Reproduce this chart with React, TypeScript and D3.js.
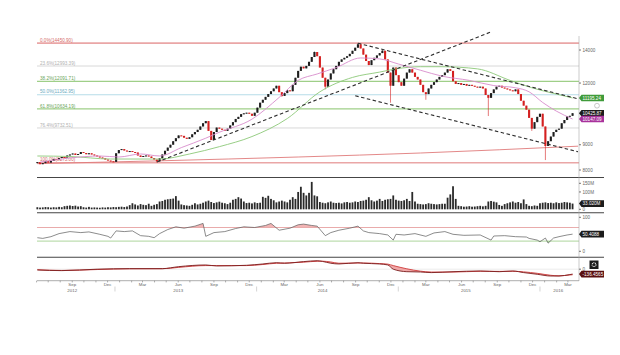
import React, { useEffect, useRef } from 'react';
import * as d3 from 'd3';

// weekly data, first week ending 2012-06-03
const firstWeek = new Date(2012, 5, 3);
const firstOpen = 8260;
const closes = [
  8300, 8220, 8260, 8340, 8280, 8350, 8420, 8400, 8460, 8500,
  8480, 8560, 8600, 8640, 8580, 8620, 8700, 8660, 8610, 8650,
  8600, 8560, 8520, 8480, 8450, 8400, 8360, 8330, 8310, 8650,
  8780, 8820, 8760, 8720, 8740, 8700, 8680, 8560, 8500, 8540,
  8560, 8520, 8460, 8400, 8330, 8450, 8600, 8750, 8880, 9000,
  9150, 9280, 9400, 9380, 9300, 9250, 9320, 9450, 9550, 9650,
  9800, 9950, 10050, 9600, 9200, 9550, 9750, 9700, 9650, 9600,
  9700, 9850, 10000, 10150, 10250, 10380, 10420, 10450, 10400, 10300,
  10450, 10700, 10950, 11100, 11250, 11400, 11550, 11700, 11850, 11500,
  11300, 11450, 11600, 11550, 11900, 12300, 12700, 12950, 12850, 13000,
  13250, 13550, 13870, 13600, 12900, 12300, 11800, 12200, 12550, 12800,
  13000, 13250, 13400, 13500, 13600, 13750, 13950, 14150, 14380, 14100,
  13700, 13300, 13050, 13350, 13500, 13650, 13800, 13950, 13400, 12600,
  11850, 12900, 12450, 12050, 11850, 12250, 12600, 12800, 12600, 12350,
  12200, 11900, 11500, 11400, 11700, 11900, 12050, 12200, 12350, 12450,
  12600, 12800, 12700, 12100, 11950, 12000, 11900, 11950, 11850, 11900,
  11850, 11800, 11750, 11800, 11700, 11350, 11200, 11450, 11650, 11800,
  11850, 11750, 11700, 11650, 11600, 11550, 11650, 11400, 11050, 10800,
  10600, 10200, 9700, 10000, 10250, 10400, 9800, 8950, 9150, 9350,
  9550, 9650, 9700, 9950, 10100, 10280, 10300, 10425.87,
];
const wickLows = [[44, 8280], [90, 11250], [106, 11650], [130, 10950], [143, 11100], [166, 10290], [182, 9600], [187, 8380]];
const wickHighs = [[102, 13900], [118, 14450.9], [127, 14000]];

const volumes = [
  12, 10, 11, 13, 12, 10, 12, 11, 14, 12,
  18, 20, 22, 19, 21, 16, 18, 12, 10, 14,
  10, 11, 10, 9, 11, 10, 12, 11, 13, 12,
  14, 15, 13, 16, 24, 35, 28, 22, 30, 26,
  24, 32, 20, 26, 30, 45, 48, 55, 58, 60,
  62, 76, 50, 28, 24, 22, 20, 26, 35, 28,
  32, 38, 45, 50, 42, 36, 40, 44, 38, 35,
  30, 38, 55, 60, 70, 62, 45, 36, 38, 34,
  40, 36, 38, 72, 66, 78, 60, 52, 40, 45,
  50, 45, 40, 55, 70, 60, 100, 130, 95, 80,
  95, 158, 80, 75, 42, 38, 35, 40, 45, 38,
  36, 38, 34, 40, 42, 38, 40, 45, 42, 48,
  50, 55, 70, 52, 45, 50, 60, 48, 55, 58,
  60, 80, 55, 50, 48, 52, 60, 48, 100, 45,
  32, 30, 28, 30, 35, 32, 30, 28, 30, 32,
  32, 67, 86, 133, 60, 20, 18, 15, 16, 18,
  15, 16, 18, 20, 17, 20, 45, 48, 44, 40,
  25, 20, 30, 35, 40, 45, 38, 42, 35, 57,
  30, 20, 18, 22, 20, 35, 38, 40, 36, 38,
  35, 40, 36, 38, 42, 40, 38, 33.02,
];

// moving averages read at sample weeks
const pinkWeeks = [1, 12, 23, 30, 38, 45, 53, 62, 67, 79, 89, 96, 103, 110, 119, 126, 133, 141, 149, 159, 168, 176, 181, 186, 191, 197];
const pinkValues = [8300, 8460, 8540, 8500, 8620, 8540, 8880, 9280, 9540, 10140, 11220, 12150, 12520, 12900, 13490, 13430, 13110, 12740, 12390, 12150, 11860, 11740, 11520, 10960, 10530, 10147.09];
const greenWeeks = [0, 12, 27, 45, 56, 67, 79, 92, 104, 116, 126, 132, 141, 149, 162, 174, 182, 191, 197];
const greenValues = [8540, 8520, 8420, 8420, 8620, 8920, 9350, 10170, 11520, 12320, 12630, 12820, 12950, 12950, 12820, 12150, 11740, 11400, 11195.24];
const longWeeks = [0, 45, 96, 141, 199];
const longValues = [8240, 8350, 8500, 8660, 8940];

// fibonacci retracement
const fibPct = ['0.0%', '23.6%', '38.2%', '50.0%', '61.8%', '76.4%', '100.0%'];
const fibValues = [14450.90, 12993.39, 12091.71, 11362.95, 10634.19, 9732.51, 8275.00];

// trend lines: [week, price] end points
const trendLines = [
  [[44, 8300], [167, 15230]],
  [[118, 14450.9], [199, 11150]],
  [[117, 11310], [199, 8710]],
];

const rsiWeeks = [0, 2, 5, 8, 12, 16, 19, 23, 26, 27, 29, 32, 35, 38, 41, 43, 45, 48, 51, 54, 58, 61, 62, 65, 69, 73, 76, 80, 84, 86, 89, 93, 96, 98, 101, 103, 106, 108, 111, 115, 118, 120, 122, 126, 129, 131, 132, 135, 139, 143, 146, 150, 153, 157, 163, 167, 168, 172, 176, 180, 181, 184, 185, 187, 188, 190, 192, 195, 197];
const rsiValues = [40, 38, 43, 52, 58, 55, 57, 50, 44, 39, 60, 58, 60, 46, 44, 40, 52, 64, 72, 68, 74, 82, 44, 55, 58, 67, 72, 70, 76, 82, 62, 68, 78, 80, 76, 74, 46, 55, 62, 68, 74, 60, 55, 52, 48, 33, 50, 48, 52, 44, 54, 58, 50, 47, 48, 33, 45, 46, 43, 42, 38, 33, 28, 39, 24, 39, 43, 48, 50.4088];

const macdWeeks = [0, 9, 22, 34, 46, 52, 62, 66, 77, 83, 88, 91, 98, 103, 105, 108, 111, 118, 120, 126, 129, 131, 136, 141, 145, 153, 163, 170, 175, 179, 184, 189, 192, 196, 197];
const macdLine = [-22, -40, 0, 15, 15, 70, 117, 90, 108, 145, 180, 165, 210, 235, 215, 165, 145, 180, 165, 145, 117, 0, -70, -78, -95, -70, -50, -70, -50, -95, -142, -190, -190, -150, -136.4565];
const signalLine = [-15, -35, -10, 10, 12, 50, 100, 100, 100, 130, 165, 170, 195, 220, 222, 200, 165, 170, 172, 155, 140, 100, 10, -55, -80, -80, -58, -62, -58, -75, -115, -170, -185, -160, -155];

const priceTicks = [8000, 9000, 12000, 14000];
const volTicks = [[0, '0'], [100, '100M'], [150, '150M']];
const yearLabels = [['2012', new Date(2012, 8, 1)], ['2013', new Date(2013, 5, 1)], ['2014', new Date(2014, 5, 8)], ['2015', new Date(2015, 5, 12)], ['2016', new Date(2016, 1, 5)]];

const FONT = 'Liberation Sans, Arial, sans-serif';

const App = () => {
  const ref = useRef(null);

  useEffect(() => {
    const svg = d3.select(ref.current);
    svg.selectAll('*').remove();

    const X0 = 35;
    const X1 = 579;
    const weekDate = (i: number) => d3.timeDay.offset(firstWeek, i * 7);

    const x = d3.scaleTime()
      .domain([new Date(2012, 4, 28), new Date(2016, 2, 27)])
      .range([X0, X1 - 1]);
    const yMain = d3.scaleLog().domain([8000, 14000]).range([170, 50]);
    const yVol = d3.scaleLinear().domain([0, 150]).range([209.3, 183.3]);
    const yRsi = d3.scaleLinear().domain([0, 100]).range([251.3, 217.3]);
    const yMacd = d3.scaleLinear().domain([-320, 330]).range([280.7, 257.3]);

    svg.append('rect').attr('width', 620).attr('height', 355).attr('fill', '#fff');

    // fibonacci levels
    const fibLine = ['#eaa6a6', '#d8d8d8', '#9fcf88', '#b6dce8', '#9fcf88', '#d8d8d8', '#eaa6a6'];
    const fibText = ['#d46a6a', '#b0b0b0', '#6aa55a', '#6aaac0', '#6aa55a', '#b0b0b0', '#d46a6a'];
    const fibW = [1.8, 1, 1.2, 1.2, 1.2, 1, 1.6];
    fibValues.forEach((v, k) => {
      svg.append('line')
        .attr('x1', 37).attr('x2', X1)
        .attr('y1', yMain(v)).attr('y2', yMain(v))
        .attr('stroke', fibLine[k]).attr('stroke-width', fibW[k]);
      svg.append('text')
        .attr('x', 40).attr('y', yMain(v) - 1.4)
        .attr('font-family', FONT).attr('font-size', 4.6)
        .attr('fill', fibText[k])
        .text(`${fibPct[k]}(${v.toFixed(2)})`);
    });

    const maLine = (weeks: number[], vals: number[]) => d3.line<number>()
      .x((_, k) => x(weekDate(weeks[k])))
      .y(d => yMain(d))
      .curve(d3.curveMonotoneX)(vals);

    svg.append('path').attr('d', maLine(longWeeks, longValues))
      .attr('fill', 'none').attr('stroke', '#e07a7a').attr('stroke-width', 0.9);

    // candles
    const cw = 2.1;
    const g = svg.append('g');
    closes.forEach((c, i) => {
      const o = i === 0 ? firstOpen : closes[i - 1];
      const up = c >= o;
      const col = up ? '#1e1e1e' : '#d42020';
      const cx = x(weekDate(i));
      let hi = Math.max(o, c);
      let lo = Math.min(o, c);
      wickHighs.forEach(([w, v]) => { if (w === i) hi = v; });
      wickLows.forEach(([w, v]) => { if (w === i) lo = v; });
      g.append('line')
        .attr('x1', cx).attr('x2', cx)
        .attr('y1', yMain(hi)).attr('y2', yMain(lo))
        .attr('stroke', col).attr('stroke-width', 0.6);
      const top = yMain(Math.max(o, c));
      const h = Math.max(1, yMain(Math.min(o, c)) - top);
      g.append('rect')
        .attr('x', cx - cw / 2).attr('y', top)
        .attr('width', cw).attr('height', h)
        .attr('fill', col);
    });

    svg.append('path').attr('d', maLine(greenWeeks, greenValues))
      .attr('fill', 'none').attr('stroke', '#8cc878').attr('stroke-width', 0.9);
    svg.append('path').attr('d', maLine(pinkWeeks, pinkValues))
      .attr('fill', 'none').attr('stroke', '#d88ccc').attr('stroke-width', 0.9);

    // trend lines
    trendLines.forEach(seg => {
      svg.append('line')
        .attr('x1', x(weekDate(seg[0][0]))).attr('y1', yMain(seg[0][1]))
        .attr('x2', x(weekDate(seg[1][0]))).attr('y2', yMain(seg[1][1]))
        .attr('stroke', '#2e2e2e').attr('stroke-width', 1.1)
        .attr('stroke-dasharray', '3.5,2.5');
    });

    // volume
    volumes.forEach((v, i) => {
      const cx = x(weekDate(i));
      svg.append('rect')
        .attr('x', cx - 0.9).attr('y', yVol(v))
        .attr('width', 1.8).attr('height', yVol(0) - yVol(v))
        .attr('fill', '#2a2a2a');
    });

    // RSI
    const defs = svg.append('defs');
    defs.append('clipPath').attr('id', 'ob').append('rect')
      .attr('x', X0).attr('y', 212).attr('width', X1 - X0).attr('height', yRsi(70) - 212);
    defs.append('clipPath').attr('id', 'os').append('rect')
      .attr('x', X0).attr('y', yRsi(30)).attr('width', X1 - X0).attr('height', 258 - yRsi(30));
    const rx = (_: number, k: number) => x(weekDate(rsiWeeks[k]));
    svg.append('path')
      .attr('d', d3.area<number>().x(rx).y0(yRsi(70)).y1(d => yRsi(d))(rsiValues))
      .attr('fill', '#f2b4b4').attr('clip-path', 'url(#ob)');
    svg.append('path')
      .attr('d', d3.area<number>().x(rx).y0(yRsi(30)).y1(d => yRsi(d))(rsiValues))
      .attr('fill', '#bfe3b3').attr('clip-path', 'url(#os)');
    svg.append('line').attr('x1', 37).attr('x2', X1)
      .attr('y1', yRsi(70)).attr('y2', yRsi(70))
      .attr('stroke', '#e39a9a').attr('stroke-width', 0.8);
    svg.append('line').attr('x1', 37).attr('x2', X1)
      .attr('y1', yRsi(30)).attr('y2', yRsi(30))
      .attr('stroke', '#98cc84').attr('stroke-width', 0.8);
    svg.append('path')
      .attr('d', d3.line<number>().x(rx).y(d => yRsi(d))(rsiValues))
      .attr('fill', 'none').attr('stroke', '#5a5a5a').attr('stroke-width', 0.7);

    // MACD
    const mx = (_: number, k: number) => x(weekDate(macdWeeks[k]));
    svg.append('line').attr('x1', 37).attr('x2', X1)
      .attr('y1', yMacd(0)).attr('y2', yMacd(0))
      .attr('stroke', '#dddddd').attr('stroke-width', 0.6);
    svg.append('path')
      .attr('d', d3.area<number>().x(mx).y0((_, k) => yMacd(signalLine[k])).y1(d => yMacd(d)).curve(d3.curveMonotoneX)(macdLine))
      .attr('fill', '#f0a8a8');
    svg.append('path')
      .attr('d', d3.line<number>().x(mx).y(d => yMacd(d)).curve(d3.curveMonotoneX)(signalLine))
      .attr('fill', 'none').attr('stroke', '#d44c4c').attr('stroke-width', 1);
    svg.append('path')
      .attr('d', d3.line<number>().x(mx).y(d => yMacd(d)).curve(d3.curveMonotoneX)(macdLine))
      .attr('fill', 'none').attr('stroke', '#7a1e1e').attr('stroke-width', 0.9);

    // panel separators and axes
    [177.5, 212.8, 257.3].forEach(yy => {
      svg.append('line').attr('x1', X0 + 2).attr('x2', 604)
        .attr('y1', yy).attr('y2', yy)
        .attr('stroke', '#454545').attr('stroke-width', 1.1);
    });
    svg.append('line').attr('x1', X1).attr('x2', X1).attr('y1', 36).attr('y2', 281)
      .attr('stroke', '#a8a8a8').attr('stroke-width', 0.6);
    svg.append('line').attr('x1', X0 + 2).attr('x2', X1).attr('y1', 280.7).attr('y2', 280.7)
      .attr('stroke', '#8a8a8a').attr('stroke-width', 0.7);

    const rightLabel = (yy: number, t: string) => {
      svg.append('line').attr('x1', X1).attr('x2', X1 + 2).attr('y1', yy).attr('y2', yy)
        .attr('stroke', '#555').attr('stroke-width', 0.8);
      svg.append('text').attr('x', X1 + 3.5).attr('y', yy).attr('dy', '0.35em')
        .attr('font-family', FONT).attr('font-size', 4.6).attr('fill', '#666').text(t);
    };
    priceTicks.forEach(v => rightLabel(yMain(v), String(v)));
    volTicks.forEach(([v, t]) => rightLabel(yVol(v as number), t as string));
    rightLabel(yRsi(100), '100');
    rightLabel(yRsi(0), '0');
    rightLabel(yMacd(0), '0');

    const tag = (yy: number, t: string, fill: string) => {
      svg.append('path')
        .attr('d', `M${X1},${yy} L${X1 + 2.5},${yy - 3.3} L${X1 + 25},${yy - 3.3} L${X1 + 25},${yy + 3.3} L${X1 + 2.5},${yy + 3.3} Z`)
        .attr('fill', fill);
      svg.append('text').attr('x', X1 + 3.5).attr('y', yy).attr('dy', '0.35em')
        .attr('font-family', FONT).attr('font-size', 4.6).attr('fill', '#fff').text(t);
    };
    tag(yMain(greenValues[greenValues.length - 1]), greenValues[greenValues.length - 1].toFixed(2), '#3f9b3a');
    tag(yMain(closes[closes.length - 1]), closes[closes.length - 1].toFixed(2), '#1c1c1c');
    tag(yMain(pinkValues[pinkValues.length - 1]), pinkValues[pinkValues.length - 1].toFixed(2), '#a8329c');
    tag(yVol(volumes[volumes.length - 1]), `${volumes[volumes.length - 1].toFixed(3)}M`, '#1c1c1c');
    tag(yRsi(rsiValues[rsiValues.length - 1]), rsiValues[rsiValues.length - 1].toFixed(4), '#1c1c1c');
    tag(yMacd(macdLine[macdLine.length - 1]), macdLine[macdLine.length - 1].toFixed(4), '#5a1010');

    svg.append('circle').attr('cx', 597).attr('cy', 105.7).attr('r', 2.4)
      .attr('fill', '#fff').attr('stroke', '#b0b0b0').attr('stroke-width', 0.7);
    svg.append('rect').attr('x', 589.5).attr('y', 260.5).attr('width', 9).attr('height', 8.5).attr('fill', '#1a1a1a');
    svg.append('circle').attr('cx', 594).attr('cy', 264.7).attr('r', 1.9)
      .attr('fill', 'none').attr('stroke', '#fff').attr('stroke-width', 1.1)
      .attr('stroke-dasharray', '0.9,0.6');

    // time axis
    const months = d3.timeMonth.range(new Date(2012, 5, 1), new Date(2016, 3, 1));
    months.forEach(m => {
      svg.append('line').attr('x1', x(m)).attr('x2', x(m)).attr('y1', 280.7).attr('y2', 282.4)
        .attr('stroke', '#777').attr('stroke-width', 0.6);
      if (m.getMonth() % 3 === 2 && m >= new Date(2012, 7, 1)) {
        svg.append('text').attr('x', x(m)).attr('y', 285.6)
          .attr('text-anchor', 'middle').attr('font-family', FONT).attr('font-size', 4.4)
          .attr('fill', '#666').text(d3.timeFormat('%b')(m));
      }
    });
    [2012, 2013, 2014, 2015].forEach(yr => {
      const xx = x(new Date(yr, 11, 20));
      svg.append('line').attr('x1', xx).attr('x2', xx).attr('y1', 286.5).attr('y2', 291.5)
        .attr('stroke', '#aaa').attr('stroke-width', 0.5);
    });
    yearLabels.forEach(([t, d]) => {
      svg.append('text').attr('x', x(d as Date)).attr('y', 292.2)
        .attr('text-anchor', 'middle').attr('font-family', FONT).attr('font-size', 4.4)
        .attr('fill', '#666').text(t as string);
    });
  }, []);

  return (
    <svg ref={ref} width={620} height={355} style={{ position: 'absolute', left: 0, top: 0, display: 'block' }} />
  );
};

export default App;
